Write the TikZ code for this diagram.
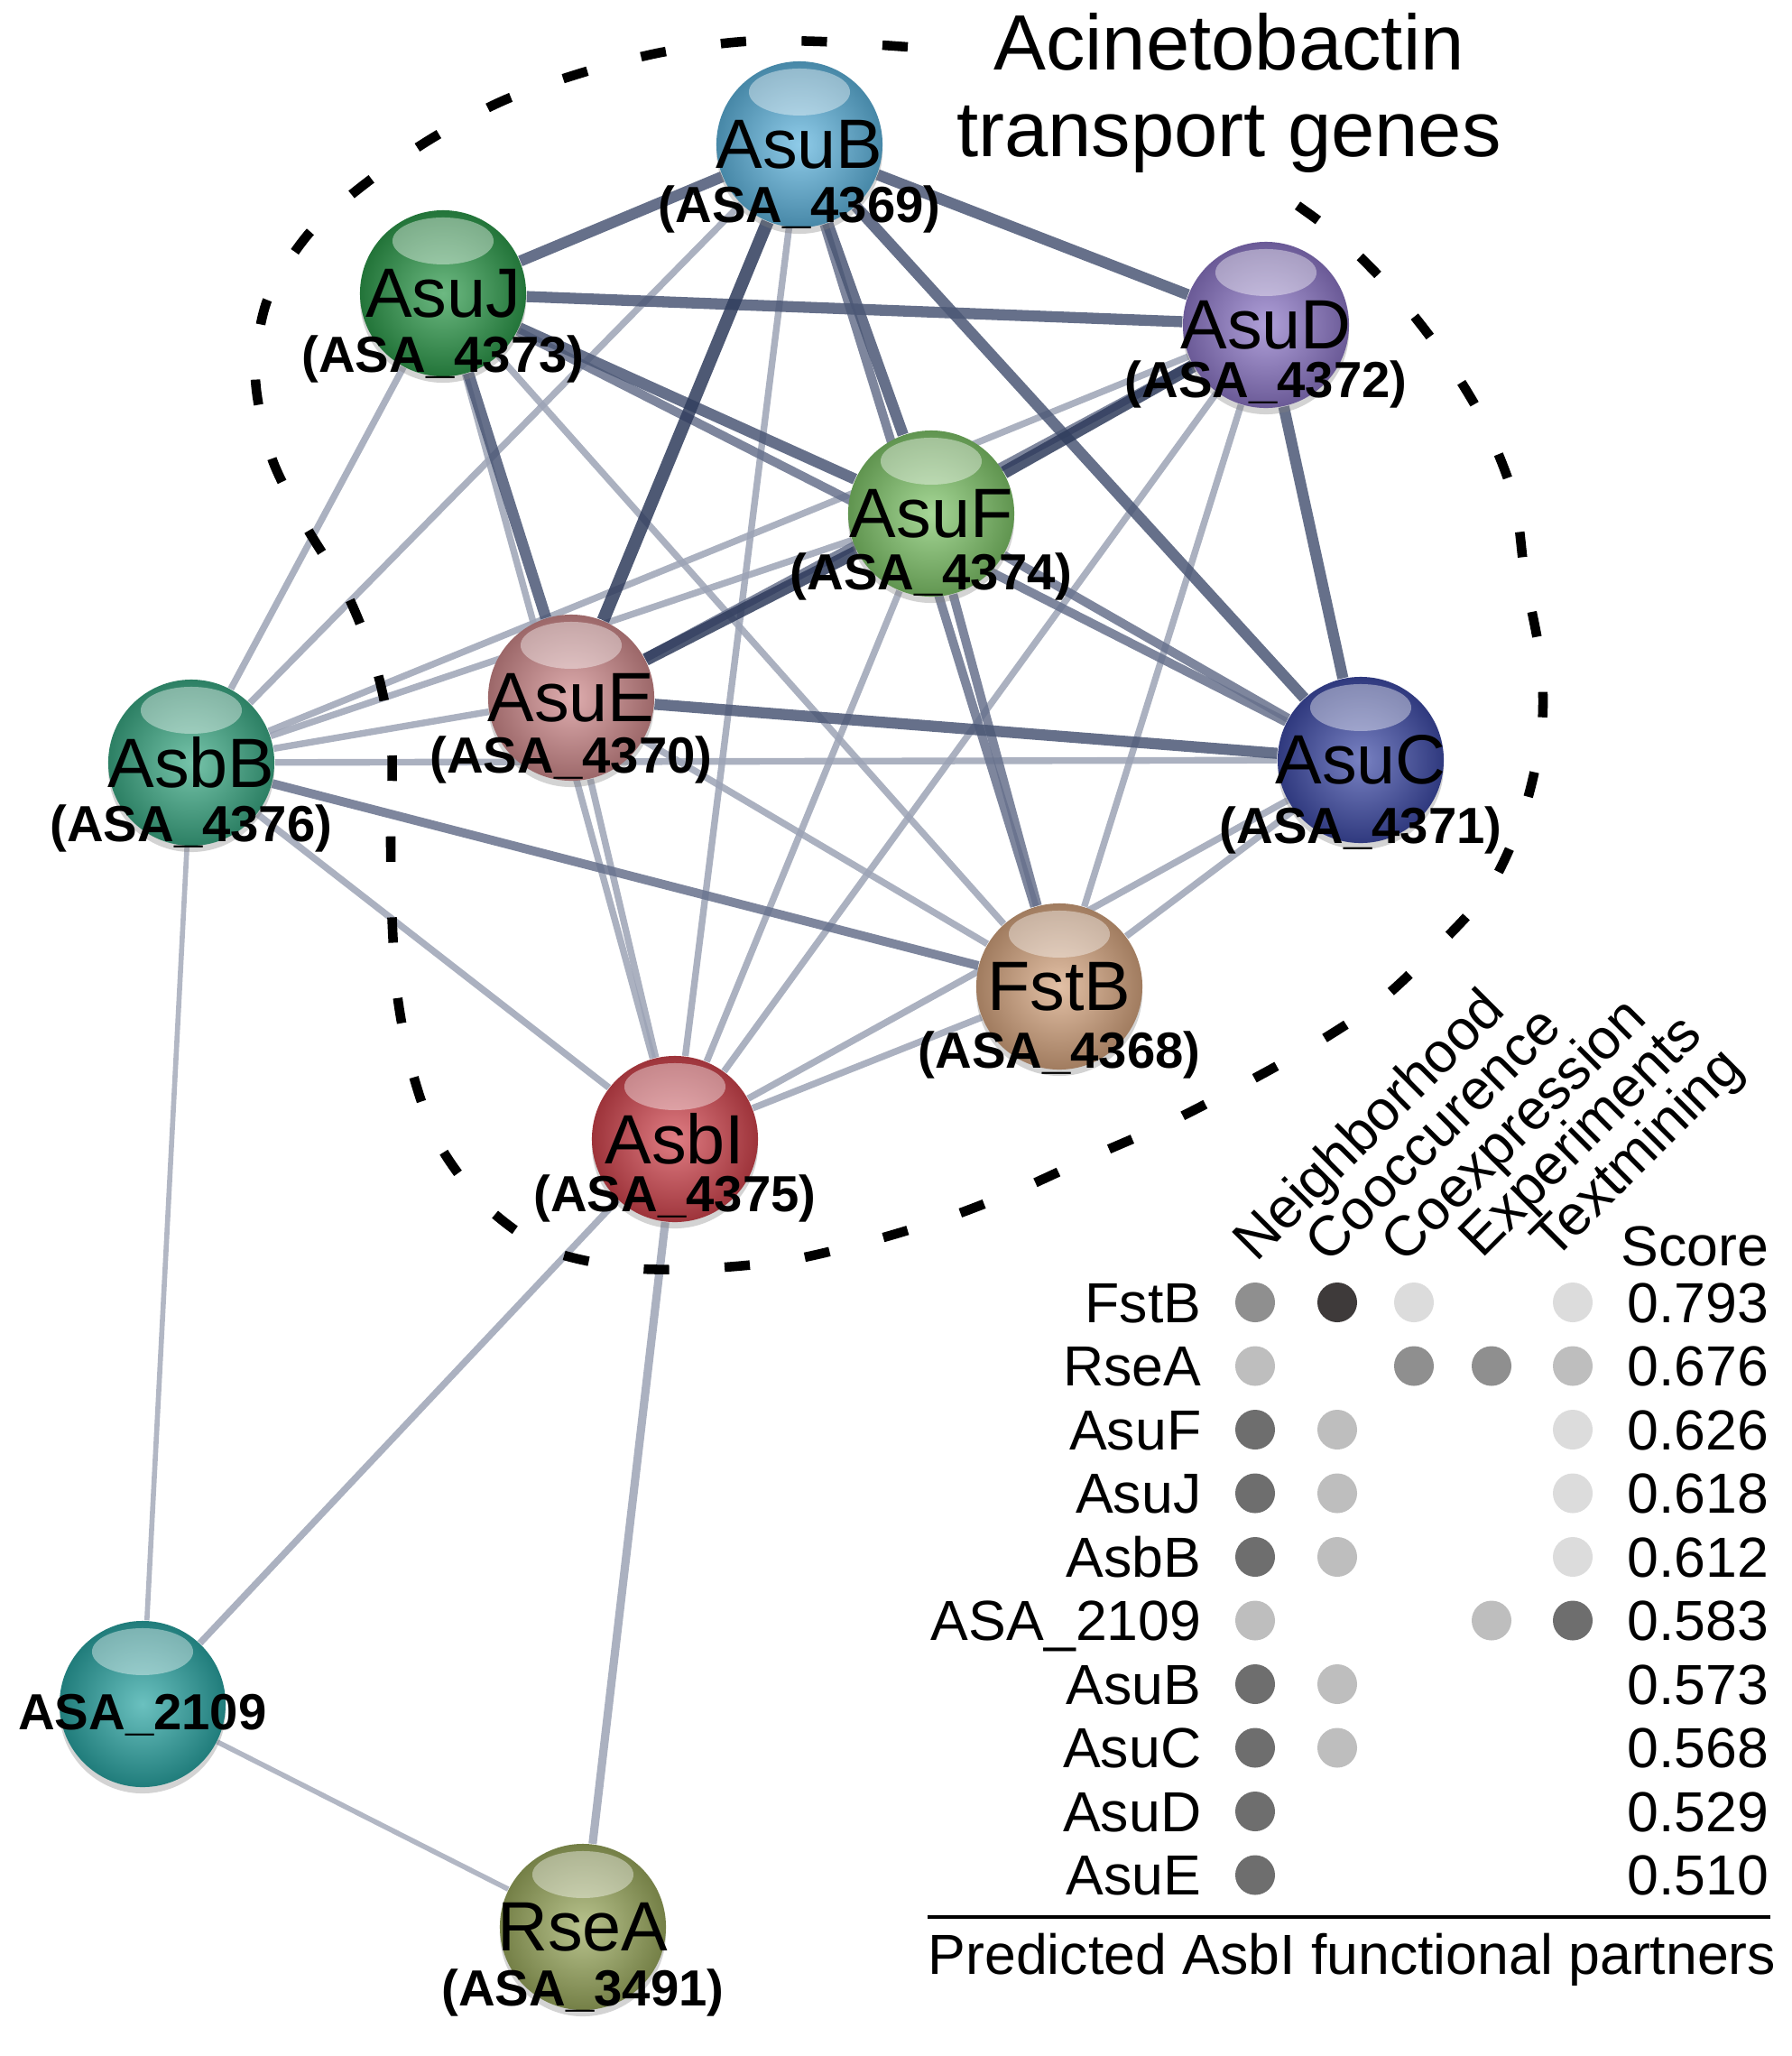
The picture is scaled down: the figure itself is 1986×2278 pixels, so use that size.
\documentclass[tikz,border=0pt]{standalone}
\usepackage{fontspec}
\setmainfont{Liberation Sans}
\usepackage{xcolor}
\usetikzlibrary{shadows}

\pgfdeclarelayer{links}
\pgfsetlayers{links,main}

% sphere colours
\definecolor{colAsuB}{HTML}{5FB5DF}
\definecolor{colAsuJ}{HTML}{2E9B4C}
\definecolor{colAsuD}{HTML}{8E78C9}
\definecolor{colAsuF}{HTML}{80C66A}
\definecolor{colAsuE}{HTML}{D08A8C}
\definecolor{colAsbB}{HTML}{3BAA85}
\definecolor{colAsuC}{HTML}{3F4CA8}
\definecolor{colFstB}{HTML}{D6A57F}
\definecolor{colAsbI}{HTML}{D2454E}
\definecolor{colASA}{HTML}{2BA6A4}
\definecolor{colRseA}{HTML}{9BAA5E}
% link colours
\definecolor{linkTop}{HTML}{2F3C5C}
\definecolor{linkHi}{HTML}{4B5775}
\definecolor{linkMid}{HTML}{67718C}
\definecolor{linkLo}{HTML}{9CA3B5}
\definecolor{linkMin}{HTML}{B2B7C4}
% evidence greys
\definecolor{gDark}{HTML}{3E3A3A}
\definecolor{gMid}{HTML}{6E6E6E}
\definecolor{gMed}{HTML}{8F8F8F}
\definecolor{gLight}{HTML}{BEBEBE}
\definecolor{gPale}{HTML}{DCDCDC}

\tikzset{
  gene/.style={circle, minimum size=1.84cm, inner sep=0pt,
    inner color=#1!70!white, outer color=#1!75!black,
    drop shadow={opacity=0.35, shadow xshift=0cm, shadow yshift=-0.07cm},
    path picture={\fill[white, opacity=0.4]
      ([yshift=-0.34cm]path picture bounding box.north) ellipse (0.56cm and 0.26cm);}},
  genename/.style={font=\fontsize{22}{24}\selectfont, inner sep=0pt},
  locus/.style={font=\bfseries\fontsize{16}{18}\selectfont, inner sep=0pt},
  heading/.style={font=\fontsize{24.7}{27}\selectfont, inner sep=0pt},
  tabtext/.style={font=\fontsize{17.8}{20}\selectfont, inner sep=0pt},
  topconf/.style={line width=4pt, draw=linkTop, draw opacity=0.85},
  hiconf/.style={line width=3.5pt, draw=linkHi, draw opacity=0.85},
  midconf/.style={line width=2.8pt, draw=linkMid, draw opacity=0.85},
  loconf/.style={line width=2.1pt, draw=linkLo, draw opacity=0.85},
  minconf/.style={line width=1.6pt, draw=linkMin},
  cluster/.style={line width=3pt, dash pattern=on 8pt off 17.5pt}
}

\begin{document}
\begin{tikzpicture}[x=0.01cm, y=-0.01cm]
  \useasboundingbox (0,0) rectangle (1986,2278);

  % Title
  \node[heading, anchor=base] (head1) at (1362,77) {Acinetobactin};
  \node[heading, anchor=base] (head2) at (1362,173) {transport genes};

  % Genes
  \node[gene=colAsuB, label={[genename]center:AsuB},
        label={[locus, yshift=-0.72cm]center:(ASA\_4369)}] (B) at (886,160) {};
  \node[gene=colAsuJ, label={[genename]center:AsuJ},
        label={[locus, yshift=-0.73cm]center:(ASA\_4373)}] (J) at (491,325) {};
  \node[gene=colAsuD, label={[genename]center:AsuD},
        label={[locus, yshift=-0.66cm]center:(ASA\_4372)}] (D) at (1403,360) {};
  \node[gene=colAsuF, label={[genename]center:AsuF},
        label={[locus, yshift=-0.70cm]center:(ASA\_4374)}] (F) at (1032,569) {};
  \node[gene=colAsuE, label={[genename]center:AsuE},
        label={[locus, yshift=-0.69cm]center:(ASA\_4370)}] (E) at (633,773) {};
  \node[gene=colAsbB, label={[genename]center:AsbB},
        label={[locus, yshift=-0.73cm]center:(ASA\_4376)}] (bB) at (212,845) {};
  \node[gene=colAsuC, label={[genename]center:AsuC},
        label={[locus, yshift=-0.78cm]center:(ASA\_4371)}] (C) at (1508,842) {};
  \node[gene=colFstB, label={[genename]center:FstB},
        label={[locus, yshift=-0.76cm]center:(ASA\_4368)}] (Fs) at (1174,1093) {};
  \node[gene=colAsbI, label={[genename]center:AsbI},
        label={[locus, yshift=-0.66cm]center:(ASA\_4375)}] (I) at (748,1262) {};
  \node[gene=colASA,
        label={[locus, yshift=-0.12cm]center:ASA\_2109}] (X) at (158,1888) {};
  \node[gene=colRseA, label={[genename]center:RseA},
        label={[locus, yshift=-0.73cm]center:(ASA\_3491)}] (R) at (646,2135) {};

  \begin{pgfonlayer}{links}
    % weak links
    \draw[loconf] (B) -- (bB);
    \draw[loconf] (B) -- (I);
    \draw[loconf] (J) -- (bB);
    \draw[loconf] (J) -- (Fs);
    \draw[loconf] (J) -- (I);
    \draw[loconf] (D) -- (bB);
    \draw[loconf] (D) -- (Fs);
    \draw[loconf] (D) -- (I);
    \draw[loconf] (F) -- (bB);
    \draw[loconf] (F) -- (I);
    \draw[loconf] (E) -- (bB);
    \draw[loconf] (E) -- (Fs);
    \draw[loconf] (E) -- (I);
    \draw[loconf] (C) -- (bB);
    \draw[loconf] (C) -- (Fs);
    \draw[loconf] (C) -- (I);
    \draw[loconf] (bB) -- (I);
    \draw[loconf] (Fs) -- (I);
    \draw[loconf] (I) -- (X);
    \draw[loconf, line width=2.6pt] (I) -- (R);
    \draw[minconf] (X) -- (R);
    \draw[minconf] (X) -- (bB);
    % medium links
    \draw[midconf] (B) -- (Fs);
    \draw[midconf] (J) -- (C);
    \draw[midconf] (D) -- (E);
    \draw[midconf] (F) -- (C);
    \draw[midconf] (F) -- (Fs);
    \draw[midconf] (bB) -- (Fs);
    % strong links
    \draw[hiconf] (B) -- (J);
    \draw[hiconf] (B) -- (D);
    \draw[hiconf] (B) -- (C);
    \draw[hiconf] (B) -- (F);
    \draw[hiconf] (J) -- (D);
    \draw[hiconf] (J) -- (F);
    \draw[hiconf] (J) -- (E);
    \draw[hiconf] (D) -- (C);
    \draw[hiconf] (E) -- (C);
    \draw[topconf] (B) -- (E);
    \draw[topconf] (D) -- (F);
    \draw[topconf] (F) -- (E);

    % Dashed outline of the transport cluster
    \draw[cluster] plot[smooth, tension=0.5] coordinates {
      (1006,52) (910,46) (824,46) (733,58) (647,80) (561,110) (484,150)
      (408,201) (342,259) (296,333) (283,418) (301,507) (339,583)
      (385,659) (418,744) (434,829) (433,918) (434,1005) (440,1100)
      (456,1184) (485,1265) (537,1335) (608,1385) (700,1405) (787,1405)
      (876,1396) (965,1375) (1050,1349) (1130,1318) (1211,1281)
      (1291,1246) (1371,1205) (1452,1160) (1528,1110) (1595,1047)
      (1650,985) (1687,905) (1708,815) (1708,735) (1690,638) (1678,552)
      (1644,466) (1598,391) (1546,325) (1480,259) (1408,207)};
  \end{pgfonlayer}

  % Evidence headers
  \node[tabtext, rotate=45, anchor=base west] (hN) at (1392,1400) {Neighborhood};
  \node[tabtext, rotate=45, anchor=base west] (hC) at (1472,1402) {Cooccurence};
  \node[tabtext, rotate=45, anchor=base west] (hX) at (1556,1402) {Coexpression};
  \node[tabtext, rotate=45, anchor=base west] (hE) at (1642,1396) {Experiments};
  \node[tabtext, rotate=45, anchor=base west] (hT) at (1722,1398) {Textmining};
  \node[tabtext, anchor=base east] (hS) at (1961,1402) {Score};

  % Partner names
  \node[tabtext, anchor=base east] (nFstB) at (1332,1465) {FstB};
  \node[tabtext, anchor=base east] (nRseA) at (1332,1535.5) {RseA};
  \node[tabtext, anchor=base east] (nAsuF) at (1332,1606) {AsuF};
  \node[tabtext, anchor=base east] (nAsuJ) at (1332,1676.5) {AsuJ};
  \node[tabtext, anchor=base east] (nAsbB) at (1332,1747) {AsbB};
  \node[tabtext, anchor=base east] (nASA) at (1332,1817.5) {ASA\_2109};
  \node[tabtext, anchor=base east] (nAsuB) at (1332,1888) {AsuB};
  \node[tabtext, anchor=base east] (nAsuC) at (1332,1958.5) {AsuC};
  \node[tabtext, anchor=base east] (nAsuD) at (1332,2029) {AsuD};
  \node[tabtext, anchor=base east] (nAsuE) at (1332,2099.5) {AsuE};

  % Scores
  \node[tabtext, anchor=base east] (sFstB) at (1961,1465) {0.793};
  \node[tabtext, anchor=base east] (sRseA) at (1961,1535.5) {0.676};
  \node[tabtext, anchor=base east] (sAsuF) at (1961,1606) {0.626};
  \node[tabtext, anchor=base east] (sAsuJ) at (1961,1676.5) {0.618};
  \node[tabtext, anchor=base east] (sAsbB) at (1961,1747) {0.612};
  \node[tabtext, anchor=base east] (sASA) at (1961,1817.5) {0.583};
  \node[tabtext, anchor=base east] (sAsuB) at (1961,1888) {0.573};
  \node[tabtext, anchor=base east] (sAsuC) at (1961,1958.5) {0.568};
  \node[tabtext, anchor=base east] (sAsuD) at (1961,2029) {0.529};
  \node[tabtext, anchor=base east] (sAsuE) at (1961,2099.5) {0.510};

  % Evidence dots
  \fill[gMed]   (1391,1443) circle (0.22cm);
  \fill[gDark]  (1482,1443) circle (0.22cm);
  \fill[gPale]  (1567,1443) circle (0.22cm);
  \fill[gPale]  (1743,1443) circle (0.22cm);
  \fill[gLight] (1391,1513.5) circle (0.22cm);
  \fill[gMed]   (1567,1513.5) circle (0.22cm);
  \fill[gMed]   (1653,1513.5) circle (0.22cm);
  \fill[gLight] (1743,1513.5) circle (0.22cm);
  \fill[gMid]   (1391,1584) circle (0.22cm);
  \fill[gLight] (1482,1584) circle (0.22cm);
  \fill[gPale]  (1743,1584) circle (0.22cm);
  \fill[gMid]   (1391,1654.5) circle (0.22cm);
  \fill[gLight] (1482,1654.5) circle (0.22cm);
  \fill[gPale]  (1743,1654.5) circle (0.22cm);
  \fill[gMid]   (1391,1725) circle (0.22cm);
  \fill[gLight] (1482,1725) circle (0.22cm);
  \fill[gPale]  (1743,1725) circle (0.22cm);
  \fill[gLight] (1391,1795.5) circle (0.22cm);
  \fill[gLight] (1653,1795.5) circle (0.22cm);
  \fill[gMid]   (1743,1795.5) circle (0.22cm);
  \fill[gMid]   (1391,1866) circle (0.22cm);
  \fill[gLight] (1482,1866) circle (0.22cm);
  \fill[gMid]   (1391,1936.5) circle (0.22cm);
  \fill[gLight] (1482,1936.5) circle (0.22cm);
  \fill[gMid]   (1391,2007) circle (0.22cm);
  \fill[gMid]   (1391,2077.5) circle (0.22cm);

  % Caption rule
  \draw[line width=0.9pt] (1028,2124) -- (1962,2124);
  \node[tabtext, anchor=base west] (caption) at (1028,2187)
    {Predicted AsbI functional partners};
\end{tikzpicture}
\end{document}
